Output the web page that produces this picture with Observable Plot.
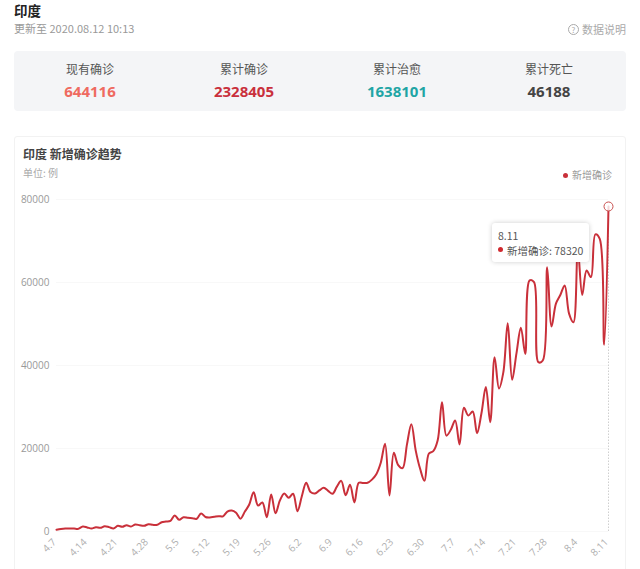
<!DOCTYPE html>
<html lang="zh">
<head>
<meta charset="utf-8">
<script src="https://cdn.jsdelivr.net/npm/d3@7"></script>
<script src="https://cdn.jsdelivr.net/npm/@observablehq/plot@0.6"></script>
<style>
html,body{margin:0;padding:0;background:#fff;overflow:hidden}
body{width:640px;height:569px;position:relative;font-family:"Noto Sans CJK SC","Noto Sans",sans-serif}
.a{position:absolute;white-space:nowrap}
.stat{position:absolute;top:60px;width:150px;margin-left:-75px;text-align:center}
.stat .l{font-size:12px;line-height:18px;color:#555}
.stat .v{font-family:"Open Sans",sans-serif;font-size:15px;line-height:22px;font-weight:700;margin-top:2px}
#chart{position:absolute;left:0;top:190px}
</style>
</head>
<body>
<div class="a" style="left:14px;top:2px;font-size:13.5px;line-height:16px;font-weight:700;color:#222">印度</div>
<div class="a" style="left:14px;top:19px;font-size:11px;line-height:18px;color:#999">更新至 2020.08.12 10:13</div>
<div class="a" style="left:568px;top:20px;font-size:11px;line-height:18px;color:#aaa"><span style="display:inline-block;width:9px;height:9px;border:1px solid #aaa;border-radius:50%;font-size:8px;line-height:9px;text-align:center;margin-right:3px;vertical-align:1px">?</span>数据说明</div>
<div class="a" style="left:14px;top:51px;width:612px;height:60px;background:#f4f5f7;border-radius:4px"></div>
<div id="stats"></div>
<div class="a" style="left:14px;top:136px;width:610px;height:460px;border:1px solid #f2f2f2;border-radius:3px"></div>
<div class="a" style="left:23px;top:145px;font-size:12px;line-height:18px;font-weight:700;color:#444">印度 新增确诊趋势</div>
<div class="a" style="left:23px;top:165px;font-size:10px;line-height:16px;color:#aaa">单位: 例</div>
<div class="a" style="left:563px;top:173px;width:5px;height:5px;border-radius:50%;background:#c9303a"></div>
<div class="a" style="left:572px;top:167px;font-size:10px;line-height:16px;color:#999">新增确诊</div>
<div id="chart"></div>
<div class="a" style="left:492px;top:223px;width:97px;height:39px;background:#fff;border-radius:3px;box-shadow:0 0 5px rgba(0,0,0,.2)">
  <div class="a" style="left:6px;top:5px;font-size:10.5px;line-height:15px;color:#555">8.11</div>
  <div class="a" style="left:6px;top:24px;width:5px;height:5px;border-radius:50%;background:#d0282e"></div>
  <div class="a" style="left:15px;top:20px;font-size:10.5px;line-height:15px;color:#555">新增确诊: 78320</div>
</div>
<script>
const statLabels = ["现有确诊", "累计确诊", "累计治愈", "累计死亡"];
const statValues = ["644116", "2328405", "1638101", "46188"];
const statColors = ["#ef6a60", "#c9303c", "#1fa5a5", "#444444"];
const statCenters = [90, 244, 397, 549];

const days = [
"4.7","4.8","4.9","4.10","4.11","4.12","4.13","4.14","4.15","4.16","4.17","4.18","4.19","4.20","4.21","4.22","4.23","4.24","4.25","4.26","4.27","4.28","4.29","4.30",
"5.1","5.2","5.3","5.4","5.5","5.6","5.7","5.8","5.9","5.10","5.11","5.12","5.13","5.14","5.15","5.16","5.17","5.18","5.19","5.20","5.21","5.22","5.23","5.24","5.25","5.26","5.27","5.28","5.29","5.30","5.31",
"6.1","6.2","6.3","6.4","6.5","6.6","6.7","6.8","6.9","6.10","6.11","6.12","6.13","6.14","6.15","6.16","6.17","6.18","6.19","6.20","6.21","6.22","6.23","6.24","6.25","6.26","6.27","6.28","6.29","6.30",
"7.1","7.2","7.3","7.4","7.5","7.6","7.7","7.8","7.9","7.10","7.11","7.12","7.13","7.14","7.15","7.16","7.17","7.18","7.19","7.20","7.21","7.22","7.23","7.24","7.25","7.26","7.27","7.28","7.29","7.30","7.31",
"8.1","8.2","8.3","8.4","8.5","8.6","8.7","8.8","8.9","8.10","8.11"];
const newCases = [
400,600,720,740,720,650,1200,980,720,1040,880,1270,1050,720,1370,1130,1520,1200,1690,1500,1370,1760,1600,1620,
2240,2400,2550,3860,2820,3450,3300,3200,3060,4340,3500,3400,3550,3700,3650,4800,5060,4500,3100,4800,6500,9470,6260,6990,3450,8900,4400,7500,9150,8120,9080,
4900,8500,11730,9500,9160,9900,10530,9800,9080,10800,12200,8750,11250,6990,11730,11700,11730,12500,13800,16500,21130,8680,18950,16000,15260,21000,25860,19500,15100,12200,
18800,19350,21900,31160,23100,24500,26750,20970,29800,27950,28900,23700,28500,34800,26350,42000,34460,38400,50200,36560,43000,49100,42800,60500,60100,40800,41200,63700,49400,54900,57000,
59300,52500,50400,68000,57000,62900,61300,71600,70500,45000,78320];
const tickDays = ["4.7","4.14","4.21","4.28","5.5","5.12","5.19","5.26","6.2","6.9","6.16","6.23","6.30","7.7","7.14","7.21","7.28","8.4","8.11"];
const yTicks = [0, 20000, 40000, 60000, 80000];
const lastDay = "8.11";
const lastValue = 78320;

const stats = document.getElementById("stats");
statLabels.forEach((l, i) => {
  const d = document.createElement("div");
  d.className = "stat";
  d.style.left = statCenters[i] + "px";
  d.innerHTML = `<div class="l">${l}</div><div class="v" style="color:${statColors[i]}">${statValues[i]}</div>`;
  stats.appendChild(d);
});

const rows = days.map((d, i) => ({day: d, value: newCases[i]}));
const chart = Plot.plot({
  width: 640,
  height: 379,
  marginLeft: 56,
  marginRight: 32,
  marginTop: 9,
  marginBottom: 38,
  style: {background: "transparent", fontFamily: "'Open Sans',sans-serif", fontSize: "10px", color: "#999"},
  x: {type: "point", domain: days, padding: 0, label: null},
  y: {domain: [0, 80000], label: null},
  marks: [
    Plot.gridY(yTicks, {stroke: "#f8f8f8", strokeOpacity: 1}),
    Plot.axisY(yTicks, {tickSize: 0, tickPadding: 7, tickFormat: d => String(d), stroke: "none", fill: "#999", label: null}),
    Plot.axisX(tickDays, {tickSize: 0, tickPadding: 9, dx: -2, tickRotate: -45, fill: "#b0b0b0", stroke: "none", label: null}),
    Plot.ruleX([lastDay], {y1: 0, y2: lastValue, stroke: "#cfcfcf", strokeDasharray: "1.5,1.5"}),
    Plot.line(rows, {x: "day", y: "value", curve: "catmull-rom", stroke: "#c9303a", strokeWidth: 2}),
    Plot.dot([{day: lastDay, value: lastValue}], {x: "day", y: "value", r: 4.5, fill: "#fff", fillOpacity: 0.8, stroke: "#c9504f", strokeWidth: 1})
  ]
});
document.getElementById("chart").appendChild(chart);
</script>
</body>
</html>
